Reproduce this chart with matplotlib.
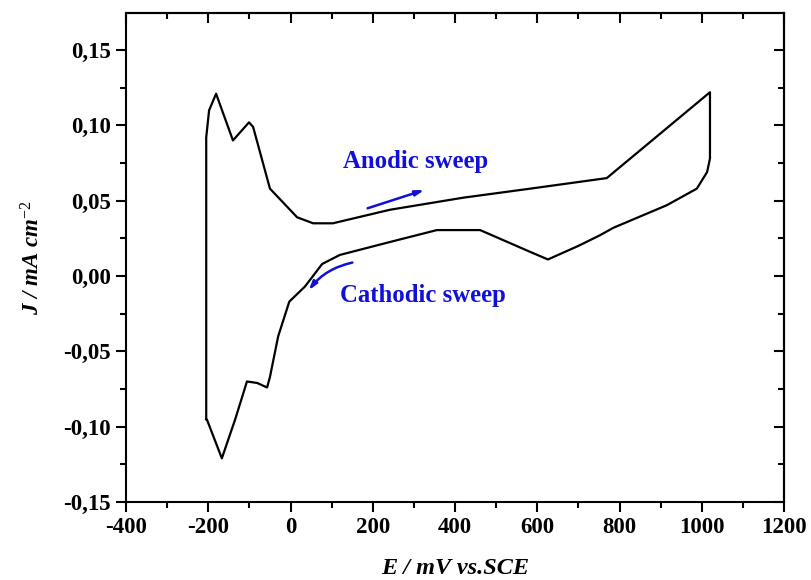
import matplotlib
matplotlib.use("Agg")
import matplotlib.pyplot as plt
from matplotlib.ticker import MultipleLocator, FuncFormatter

plt.rcParams["mathtext.fontset"] = "custom"
plt.rcParams["mathtext.rm"] = "Liberation Serif"
plt.rcParams["mathtext.it"] = "Liberation Serif:italic"
plt.rcParams["mathtext.bf"] = "Liberation Serif:bold"

# Cyclic voltammogram, traced as a closed path
E_mV = [-205, -205, -198, -181, -140, -101, -91, -50, 16, 55, 103, 242, 420, 583, 769,
        1020, 1020, 1013, 988, 915, 785, 752, 700, 626, 583, 461, 356, 242, 120, 77,
        35, -3, -30, -50, -57, -81, -106, -115, -135, -167, -203, -205]
J_mAcm2 = [-0.095, 0.092, 0.110, 0.121, 0.090, 0.102, 0.099, 0.058, 0.039, 0.035, 0.035,
           0.044, 0.052, 0.058, 0.065, 0.122, 0.078, 0.069, 0.058, 0.047, 0.032, 0.027,
           0.020, 0.011, 0.016, 0.0305, 0.0305, 0.0226, 0.014, 0.008, -0.007, -0.017,
           -0.040, -0.067, -0.074, -0.071, -0.070, -0.078, -0.0955, -0.121, -0.0955, -0.095]

anodic_arrow = [(181, 0.0444), (332, 0.0577)]
cathodic_arrow = [(157, 0.0093), (40, -0.011)]
x_ticks = [-400, -200, 0, 200, 400, 600, 800, 1000, 1200]
y_ticks = [-0.15, -0.10, -0.05, 0.00, 0.05, 0.10, 0.15]

serif = ["Liberation Serif", "DejaVu Serif"]
blue = "#1010d8"

fig = plt.figure(figsize=(8.11, 5.80), dpi=100)
ax = fig.add_axes([0.1554, 0.1345, 0.9667 - 0.1554, 0.9776 - 0.1345])

ax.plot(E_mV, J_mAcm2, color="black", lw=1.6, solid_joinstyle="round")

ax.set_xlim(-400, 1200)
ax.set_ylim(-0.15, 0.1746)
ax.set_xticks(x_ticks)
ax.set_yticks(y_ticks)
ax.xaxis.set_minor_locator(MultipleLocator(100))
ax.yaxis.set_minor_locator(MultipleLocator(0.025))
ax.yaxis.set_major_formatter(FuncFormatter(lambda v, p: ("%.2f" % v).replace(".", ",").replace("-0,00", "0,00")))
ax.xaxis.set_major_formatter(FuncFormatter(lambda v, p: "%d" % v))
ax.tick_params(which="major", direction="out", length=7, width=1.5, labelsize=16.5, pad=4)
ax.tick_params(which="minor", direction="out", length=4, width=1.5)
for lab in ax.get_xticklabels() + ax.get_yticklabels():
    lab.set_fontfamily(serif)
    lab.set_fontweight("bold")
for s in ax.spines.values():
    s.set_linewidth(1.5)

# mirrored inward ticks on top/right
secx = ax.secondary_xaxis("top")
secx.set_xticks(x_ticks)
secx.xaxis.set_minor_locator(MultipleLocator(100))
secx.tick_params(which="major", direction="in", length=7, width=1.5, labeltop=False)
secx.tick_params(which="minor", direction="in", length=4, width=1.5)
secx.spines["top"].set_linewidth(1.5)
secy = ax.secondary_yaxis("right")
secy.set_yticks(y_ticks)
secy.yaxis.set_minor_locator(MultipleLocator(0.025))
secy.tick_params(which="major", direction="in", length=7, width=1.5, labelright=False)
secy.tick_params(which="minor", direction="in", length=4, width=1.5)
secy.spines["right"].set_linewidth(1.5)

ax.set_xlabel("E / mV vs.SCE", fontfamily=serif, fontstyle="italic", fontweight="bold",
              fontsize=17.5, va="center")
ax.xaxis.set_label_coords(0.5, -0.137)
ax.set_ylabel(r"J / mA cm$^{-2}$", fontfamily=serif, fontstyle="italic",
              fontweight="bold", fontsize=16.5)
ax.yaxis.set_label_coords(-0.124, 0.5)

ax.annotate("", xy=anodic_arrow[1], xytext=anodic_arrow[0],
            arrowprops=dict(arrowstyle="-|>,head_length=0.5,head_width=0.15", color=blue, lw=1.8))
ax.annotate("", xy=cathodic_arrow[1], xytext=cathodic_arrow[0],
            arrowprops=dict(arrowstyle="-|>,head_length=0.5,head_width=0.15", color=blue, lw=1.8,
                            connectionstyle="arc3,rad=0.2"))

ax.text(304, 0.0757, "Anodic sweep", color=blue, fontfamily=serif, fontweight="bold",
        fontsize=17.8, ha="center", va="center")
ax.text(322, -0.0126, "Cathodic sweep", color=blue, fontfamily=serif, fontweight="bold",
        fontsize=17.8, ha="center", va="center")

fig.savefig("out.png", dpi=100)
